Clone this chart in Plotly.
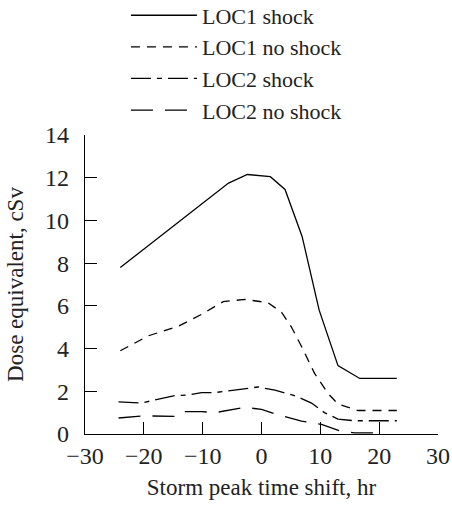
import plotly.graph_objects as go

# values
x_loc1_shock = [-24, -9, -5.6, -2.4, 1.5, 4, 6.9, 9.8, 13, 16.7, 23]
y_loc1_shock = [7.8, 11.05, 11.75, 12.15, 12.05, 11.45, 9.25, 5.8, 3.2, 2.6, 2.6]

x_loc1_noshock = [-24, -19.2, -14.1, -10.2, -6.5, -2.8, 1.1, 3.4, 5.1, 6.8, 9, 11.3, 13, 16.4, 23]
y_loc1_noshock = [3.9, 4.6, 5.05, 5.6, 6.2, 6.3, 6.15, 5.7, 5.0, 4.1, 2.85, 1.9, 1.4, 1.1, 1.1]

x_loc2_shock = [-24.3, -20.3, -18.1, -14.7, -12.4, -10.2, -7.9, -3.4, -0.6, 2.3, 5.6, 8.5, 10.7, 13, 15.8, 23]
y_loc2_shock = [1.5, 1.45, 1.6, 1.8, 1.83, 1.94, 1.94, 2.1, 2.2, 2.05, 1.8, 1.45, 1.0, 0.7, 0.62, 0.62]

x_loc2_noshock = [-24.3, -19.8, -14.4, -13.3, -10.2, -7.9, -2.8, 0, 2.8, 6.8, 10.2, 13.3, 15.8, 20.5]
y_loc2_noshock = [0.75, 0.85, 0.82, 1.05, 1.05, 1.0, 1.25, 1.15, 0.9, 0.6, 0.45, 0.15, 0.05, 0.05]

serif = "Liberation Serif, Times New Roman, serif"

fig = go.Figure()

fig.add_trace(go.Scatter(x=x_loc1_shock, y=y_loc1_shock, mode="lines", name="LOC1 shock",
                         line=dict(color="black", width=1.3)))
fig.add_trace(go.Scatter(x=x_loc1_noshock, y=y_loc1_noshock, mode="lines", name="LOC1 no shock",
                         line=dict(color="black", width=1.3, dash="9px,7px")))
fig.add_trace(go.Scatter(x=x_loc2_shock, y=y_loc2_shock, mode="lines", name="LOC2 shock",
                         line=dict(color="black", width=1.3, dash="20px,6px,5px,6px")))
fig.add_trace(go.Scatter(x=x_loc2_noshock, y=y_loc2_noshock, mode="lines", name="LOC2 no shock",
                         line=dict(color="black", width=1.3, dash="22px,12px")))

fig.update_layout(
    width=452, height=508,
    margin=dict(l=85, r=14, t=135, b=74, autoexpand=False),
    plot_bgcolor="white", paper_bgcolor="white",
    font=dict(family=serif, size=23, color="#222"),
    showlegend=True,
    legend=dict(x=0.116, y=1.47, xanchor="left", yanchor="top",
                bgcolor="rgba(0,0,0,0)", tracegroupgap=0, itemwidth=66,
                font=dict(family=serif, size=22)),
)

fig.update_xaxes(range=[-30, 30], tickvals=[-30, -20, -10, 0, 10, 20, 30],
                 showline=True, linecolor="black", linewidth=1.3,
                 ticks="inside", ticklen=12, tickwidth=1.3, tickcolor="black",
                 tickfont=dict(size=24), ticklabelstandoff=0,
                 showgrid=False, zeroline=False, automargin=False,
                 title=dict(text="Storm peak time shift, hr", standoff=10, font=dict(size=23)))
fig.update_yaxes(range=[0, 14], tickvals=[0, 2, 4, 6, 8, 10, 12, 14],
                 showline=True, linecolor="black", linewidth=1.3,
                 ticks="inside", ticklen=12, tickwidth=1.3, tickcolor="black",
                 tickfont=dict(size=24), ticklabelstandoff=10,
                 showgrid=False, zeroline=False, automargin=False,
                 title=dict(text="Dose equivalent, cSv", standoff=14, font=dict(size=23)))

fig.write_html("out.html", config={"displayModeBar": False},
               post_script="document.body.style.margin='0';")
